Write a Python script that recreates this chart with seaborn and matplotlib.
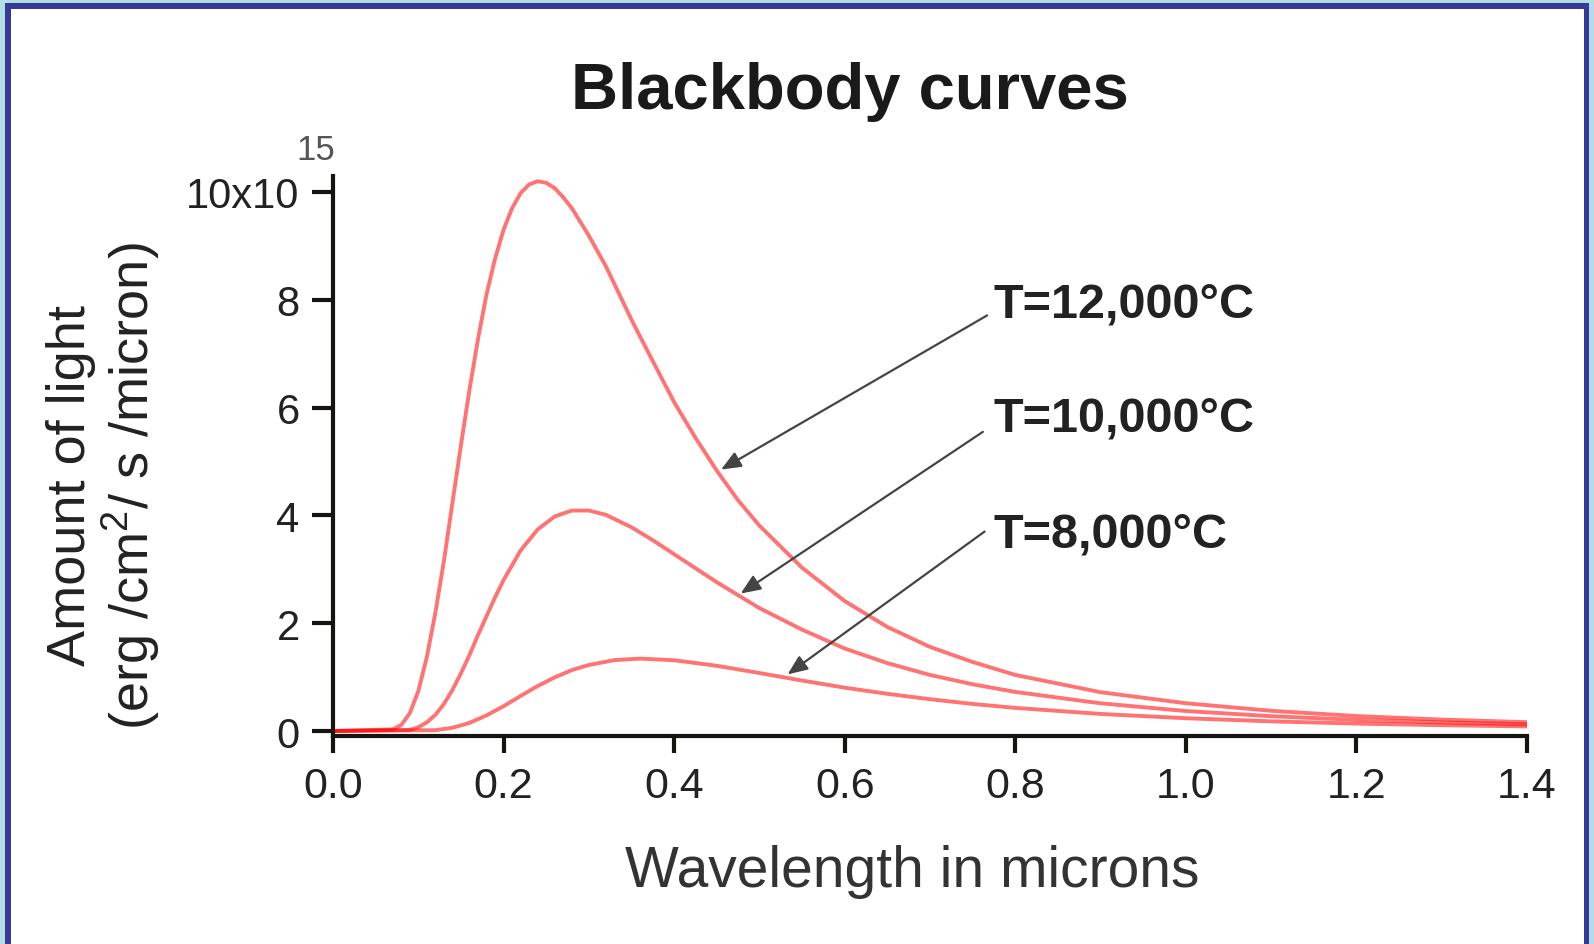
import matplotlib
matplotlib.use("Agg")
import matplotlib.pyplot as plt
import matplotlib.patches as mpatches
import seaborn as sns
import pandas as pd

# ---------------- data ----------------
wl_12000 = [0.0, 0.07, 0.08, 0.09, 0.10, 0.11, 0.12, 0.13, 0.14, 0.15, 0.16, 0.17,
            0.18, 0.19, 0.20, 0.21, 0.22, 0.23, 0.24, 0.25, 0.26, 0.27, 0.28, 0.30,
            0.32, 0.35, 0.375, 0.40, 0.425, 0.45, 0.475, 0.50, 0.55, 0.60, 0.65,
            0.70, 0.75, 0.80, 0.90, 1.0, 1.1, 1.2, 1.3, 1.4]
amt_12000 = [0.0, 0.03, 0.11, 0.33, 0.74, 1.37, 2.19, 3.15, 4.23, 5.30, 6.33, 7.27,
             8.10, 8.76, 9.30, 9.70, 9.98, 10.14, 10.2, 10.17, 10.07, 9.90, 9.70, 9.19,
             8.62, 7.63, 6.86, 6.10, 5.44, 4.83, 4.28, 3.81, 3.03, 2.41, 1.93,
             1.56, 1.28, 1.04, 0.72, 0.515, 0.375, 0.278, 0.212, 0.164]

wl_10000 = [0.0, 0.09, 0.10, 0.11, 0.12, 0.13, 0.14, 0.15, 0.16, 0.17, 0.18, 0.19,
            0.20, 0.22, 0.24, 0.26, 0.28, 0.30, 0.32, 0.35, 0.375, 0.40, 0.45, 0.50,
            0.55, 0.60, 0.65, 0.70, 0.75, 0.80, 0.90, 1.0, 1.1, 1.2, 1.3, 1.4]
amt_10000 = [0.0, 0.02, 0.07, 0.16, 0.30, 0.50, 0.76, 1.07, 1.41, 1.78, 2.13, 2.48,
             2.80, 3.35, 3.74, 3.98, 4.09, 4.09, 4.01, 3.78, 3.54, 3.28, 2.76, 2.28,
             1.88, 1.53, 1.26, 1.04, 0.867, 0.725, 0.514, 0.371, 0.275, 0.207, 0.159,
             0.124]

wl_8000 = [0.0, 0.12, 0.14, 0.16, 0.18, 0.20, 0.22, 0.24, 0.26, 0.28, 0.30, 0.33,
           0.36, 0.40, 0.45, 0.50, 0.55, 0.60, 0.65, 0.70, 0.75, 0.80, 0.90, 1.0,
           1.1, 1.2, 1.3, 1.4]
amt_8000 = [0.0, 0.015, 0.06, 0.15, 0.29, 0.46, 0.65, 0.835, 0.995, 1.13, 1.225, 1.316,
            1.343, 1.313, 1.21, 1.076, 0.936, 0.804, 0.690, 0.59, 0.502, 0.429, 0.317,
            0.237, 0.179, 0.1375, 0.108, 0.085]

curve_labels = ["T=12,000°C", "T=10,000°C", "T=8,000°C"]
# label anchor (x, y) and arrow head (x, y) in data units
label_pos = [(0.774, 7.93), (0.774, 5.81), (0.774, 3.65)]
arrow_tail = [(0.767, 7.71), (0.762, 5.55), (0.764, 3.70)]
arrow_head = [(0.455, 4.85), (0.478, 2.55), (0.533, 1.05)]

x_ticks = [0.0, 0.2, 0.4, 0.6, 0.8, 1.0, 1.2, 1.4]
x_tick_labels = ["0.0", "0.2", "0.4", "0.6", "0.8", "1.0", "1.2", "1.4"]
y_ticks = [0, 2, 4, 6, 8, 10]
y_tick_labels = ["0", "2", "4", "6", "8", "10x10"]

title = "Blackbody curves"
x_label = "Wavelength in microns"
y_label = "Amount of light\n(erg /cm$^2$/ s /micron)"

# ---------------- style ----------------
sns.set_theme(style="ticks")
plt.rcParams["font.family"] = ["Liberation Sans", "DejaVu Sans"]
plt.rcParams["mathtext.fontset"] = "custom"
plt.rcParams["mathtext.rm"] = "Liberation Sans"
plt.rcParams["mathtext.it"] = "Liberation Sans:italic"
plt.rcParams["mathtext.bf"] = "Liberation Sans:bold"

W, H = 1594, 945
fig = plt.figure(figsize=(W / 100, H / 100), dpi=100, facecolor="#b2dde3")

# frame: dark blue band then white interior
fig.add_artist(mpatches.Rectangle((5 / W, 0), 1584 / W, 941 / H, transform=fig.transFigure,
                                  facecolor="#36389a", edgecolor="none", zorder=-2))
fig.add_artist(mpatches.Rectangle((11 / W, 0), 1573 / W, 935 / H, transform=fig.transFigure,
                                  facecolor="white", edgecolor="none", zorder=-1))

ax = fig.add_axes([333 / W, (945 - 737.4) / H, 1194 / W, 560.6 / H])
ax.set_facecolor("none")

frames = []
for lab, xs, ys in [(curve_labels[0], wl_12000, amt_12000),
                    (curve_labels[1], wl_10000, amt_10000),
                    (curve_labels[2], wl_8000, amt_8000)]:
    frames.append(pd.DataFrame({"wavelength": xs, "amount": ys, "T": lab}))
df = pd.concat(frames, ignore_index=True)

sns.lineplot(data=df, x="wavelength", y="amount", hue="T", units="T", estimator=None,
             sort=False, palette=["#ff0000"] * 3, alpha=0.55, linewidth=2.8,
             legend=False, ax=ax)

ax.set_xlim(0, 1.4)
ax.set_ylim(-0.1, 10.3)
ax.set_xticks(x_ticks)
ax.set_xticklabels(x_tick_labels)
ax.set_yticks(y_ticks)
ax.set_yticklabels(y_tick_labels)
ax.set_xlabel("")
ax.set_ylabel("")

for s in ["top", "right"]:
    ax.spines[s].set_visible(False)
for s in ["left", "bottom"]:
    ax.spines[s].set_linewidth(3)
    ax.spines[s].set_color("#161410")
ax.spines["left"].set_bounds(-0.1, 10.3)
ax.spines["bottom"].set_bounds(0, 1.4)

ax.tick_params(axis="y", direction="out", length=15, width=3, pad=9, labelsize=30,
               color="#161410", labelcolor="#222222")
ax.tick_params(axis="x", direction="out", length=12, width=3, pad=9, labelsize=31,
               color="#161410", labelcolor="#222222")

# annotations with arrows
for lab, lp, tl, hd in zip(curve_labels, label_pos, arrow_tail, arrow_head):
    ax.annotate("", xy=hd, xytext=tl,
                arrowprops=dict(arrowstyle="-|>,head_length=0.6,head_width=0.25",
                                color="#444444", lw=1.6, shrinkA=0, shrinkB=0,
                                mutation_scale=20))
    ax.text(lp[0], lp[1], lab, fontsize=35, fontweight="bold", color="#222222",
            ha="left", va="center")

# title, labels, exponent
fig.text(850 / W, 1 - 92 / H, title, fontsize=47, fontweight="bold", color="#1a1a1a",
         ha="center", va="center")
fig.text(912 / W, 1 - 872 / H, x_label, fontsize=41, color="#333333",
         ha="center", va="center")
fig.text(104 / W, 1 - 486 / H, y_label, fontsize=39, color="#222222", rotation=90,
         ha="center", va="center", multialignment="center", linespacing=1.1)
fig.text(316 / W, 1 - 151 / H, "15", fontsize=25, color="#555555",
         ha="center", va="center")

fig.savefig("out.png", dpi=100, facecolor=fig.get_facecolor())
